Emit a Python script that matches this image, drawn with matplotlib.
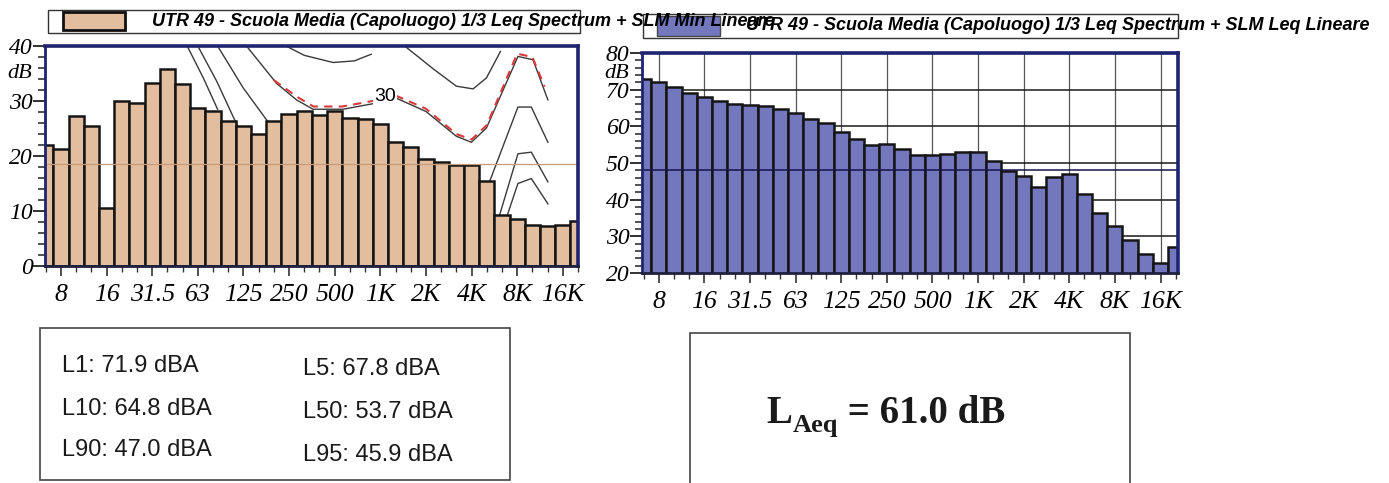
import matplotlib
matplotlib.use("Agg")
import matplotlib.pyplot as plt
from matplotlib.patches import Rectangle
import matplotlib.transforms as mtransforms

# ---------------- data ----------------
bands = ['6.3', '8', '10', '12.5', '16', '20', '25', '31.5', '40', '50', '63', '80',
         '100', '125', '160', '200', '250', '315', '400', '500', '630', '800', '1K',
         '1.25K', '1.6K', '2K', '2.5K', '3.15K', '4K', '5K', '6.3K', '8K', '10K',
         '12.5K', '16K', '20K']
min_spectrum = [22.0, 21.3, 27.2, 25.5, 10.5, 30.0, 29.7, 33.2, 35.8, 33.1, 28.8, 28.1,
                26.3, 25.4, 24.0, 26.4, 27.6, 28.1, 27.5, 28.2, 26.9, 26.8, 25.9, 22.5,
                21.6, 19.4, 19.0, 18.3, 18.4, 15.4, 9.3, 8.5, 7.5, 7.2, 7.5, 8.1]
leq_spectrum = [73.0, 72.2, 70.7, 69.2, 68.1, 67.0, 66.2, 65.9, 65.5, 64.7, 63.7, 62.1,
                61.0, 58.5, 56.6, 55.0, 55.2, 53.8, 52.3, 52.3, 52.5, 53.0, 53.0, 50.6,
                47.9, 46.4, 43.5, 46.1, 47.0, 41.6, 36.4, 32.9, 28.9, 25.3, 22.7, 27.0]
octave_labels = ['8', '16', '31.5', '63', '125', '250', '500', '1K', '2K', '4K', '8K', '16K']

legend_left = "UTR 49 - Scuola Media (Capoluogo) 1/3 Leq Spectrum + SLM Min Lineare"
legend_right = "UTR 49 - Scuola Media (Capoluogo) 1/3 Leq Spectrum + SLM Leq Lineare"

stat_names = ['L1', 'L5', 'L10', 'L50', 'L90', 'L95']
stat_values = [71.9, 67.8, 64.8, 53.7, 47.0, 45.9]
laeq_value = 61.0

# reference lines drawn across the bars
left_ref_level = 18.5
right_ref_level = 48.0

# contour curves on the left chart (band index, dB)
curve1_x = [9.3, 10.36, 11.3]
curve1_y = [40.0, 34.2, 28.5]
curve2_x = [10.0, 11.24, 12.6]
curve2_y = [40.0, 33.6, 25.5]
curve3_x = [11.3, 12.98, 14.8]
curve3_y = [40.0, 32.4, 25.5]
curve4a_x = [13.2, 15.18, 16.49, 17.58, 19.55, 21.5, 21.8]
curve4a_y = [40.0, 33.2, 30.2, 28.5, 28.5, 29.5, 29.7]
curve4b_x = [23.06, 25.0, 27.0, 27.99, 28.98, 31.05, 32.04, 33.02]
curve4b_y = [30.5, 28.1, 23.6, 22.5, 25.1, 38.1, 37.5, 30.2]
red_a_x = [15.0, 16.5, 17.6, 19.5, 21.5, 21.8]
red_a_y = [33.8, 30.8, 29.0, 29.0, 30.0, 30.2]
red_b_x = [23.0, 25.0, 27.0, 28.0, 29.0, 31.0, 32.0, 32.8]
red_b_y = [31.0, 28.6, 24.0, 23.0, 25.6, 38.6, 38.0, 32.6]
curve0_x = [15.8, 17.0, 18.9, 20.3, 21.4]
curve0_y = [40.0, 38.3, 37.0, 37.3, 38.5]
curve5_x = [23.6, 25.5, 27.0, 28.1, 28.98, 29.9]
curve5_y = [40.0, 35.8, 32.7, 32.2, 34.2, 39.0]
curve6_x = [29.0, 31.05, 31.93, 33.02]
curve6_y = [14.0, 28.9, 28.9, 22.5]
curve7_x = [29.6, 31.05, 31.93, 33.02]
curve7_y = [7.0, 20.4, 20.7, 15.3]
curve8_x = [30.2, 31.05, 31.93, 33.02]
curve8_y = [8.0, 15.0, 15.9, 11.3]
contour_label = '30'
contour_label_pos = (22.3, 30.9)

# ---------------- style ----------------
W, H = 1389, 483
TAN = '#E3BE9E'
BLUE = '#7377BE'
NAVY = '#1E2470'
SERIF = ['Liberation Serif', 'DejaVu Serif']
INK = '#1a1a1a'

fig = plt.figure(figsize=(W / 100, H / 100), dpi=100)
fig.patch.set_facecolor('white')


def fbox(x0, y0, x1, y1):
    """pixel box (top-left origin) -> figure fraction rect"""
    return [x0 / W, 1 - y1 / H, (x1 - x0) / W, (y1 - y0) / H]


major_pos = [1 + 3 * k for k in range(len(octave_labels))]
idx = list(range(len(bands)))


def style_axes(ax, ylo, yhi, xlim, db_at):
    ax.set_xlim(*xlim)
    ax.set_ylim(ylo, yhi)
    ax.set_xticks(major_pos)
    ax.set_xticklabels(octave_labels)
    ax.set_xticks(idx, minor=True)
    ax.set_yticks(list(range(ylo, yhi + 1, 10)))
    ax.set_yticks(list(range(ylo, yhi + 1, 2)), minor=True)
    for lab in ax.get_xticklabels():
        lab.set_fontfamily(SERIF)
        lab.set_fontstyle('italic')
        lab.set_fontsize(18.5)
    for lab in ax.get_yticklabels():
        lab.set_fontfamily(SERIF)
        lab.set_fontstyle('italic')
        lab.set_fontsize(17)
    ax.tick_params(axis='x', which='major', direction='out', length=7, width=1.2,
                   color='#333333', pad=6)
    ax.tick_params(axis='x', which='minor', direction='out', length=4, width=1.0,
                   color='#333333')
    ax.tick_params(axis='y', which='major', direction='out', length=9, width=1.3,
                   color='#222222', pad=0)
    ax.tick_params(axis='y', which='minor', direction='out', length=5, width=1.1,
                   color='#222222')
    for side in ['top', 'right']:
        ax.spines[side].set_color(NAVY)
        ax.spines[side].set_linewidth(2.6)
    ax.spines['left'].set_color(NAVY)
    ax.spines['left'].set_linewidth(2.0)
    ax.spines['bottom'].set_color('#202040')
    ax.spines['bottom'].set_linewidth(2.0)
    trans = mtransforms.blended_transform_factory(ax.transAxes, ax.transData)
    ax.text(-0.025, db_at, 'dB', transform=trans, ha='right', va='center',
            fontfamily=SERIF, fontstyle='italic', fontsize=16)


# ---------------- left chart ----------------
axL = fig.add_axes(fbox(45, 46, 578, 266))
contour_style = dict(color='#3a3a3a', lw=1.0, zorder=1)
for cx, cy in [(curve1_x, curve1_y), (curve2_x, curve2_y), (curve3_x, curve3_y),
               (curve4a_x, curve4a_y), (curve4b_x, curve4b_y), (curve0_x, curve0_y),
               (curve5_x, curve5_y), (curve6_x, curve6_y), (curve7_x, curve7_y),
               (curve8_x, curve8_y)]:
    axL.plot(cx, cy, **contour_style)
for cx, cy in [(red_a_x, red_a_y), (red_b_x, red_b_y)]:
    axL.plot(cx, cy, color='#D83A3A', lw=1.5, dashes=(4, 3), zorder=1.5)
axL.text(contour_label_pos[0], contour_label_pos[1], contour_label, ha='center',
         va='center', fontsize=14, fontfamily='Liberation Sans', zorder=1.6,
         bbox=dict(boxstyle='square,pad=0.05', fc='white', ec='none'))
axL.bar(idx, min_spectrum, width=1.0, color=TAN, edgecolor='#151515', linewidth=1.8,
        zorder=2)
axL.axhline(left_ref_level, color='#C89A78', lw=0.9, zorder=2.5)
style_axes(axL, 0, 40, (-0.05, 35.0), 35)

# ---------------- right chart ----------------
axR = fig.add_axes(fbox(642, 53, 1178, 273))
axR.grid(True, which='major', axis='x', color='#555555', lw=0.9, zorder=0)
axR.grid(True, which='major', axis='y', color='#1a1a1a', lw=1.1, zorder=0)
axR.set_axisbelow(True)
axR.bar(idx, leq_spectrum, width=1.0, color=BLUE, edgecolor='#151515', linewidth=1.8,
        zorder=2)
axR.axhline(right_ref_level, color='#15154a', lw=1.1, zorder=2.5)
style_axes(axR, 20, 80, (-0.1, 35.15), 74.3)

# ---------------- legends ----------------
legend_font = dict(fontfamily=['Liberation Sans'], fontweight='bold', fontstyle='italic',
                   fontsize=13, va='center', ha='left')
fig.add_artist(Rectangle((48 / W, 1 - 33 / H), 532 / W, 23 / H, transform=fig.transFigure,
                         fc='white', ec='#333333', lw=1.0, zorder=1))
fig.add_artist(Rectangle((63 / W, 1 - 30 / H), 62 / W, 18 / H, transform=fig.transFigure,
                         fc=TAN, ec='#111111', lw=2.0, zorder=2))
fig.add_artist(Rectangle((643 / W, 1 - 38 / H), 535 / W, 24 / H, transform=fig.transFigure,
                         fc='none', ec='#333333', lw=1.0, zorder=2))
fig.add_artist(Rectangle((657 / W, 1 - 36 / H), 63 / W, 20 / H, transform=fig.transFigure,
                         fc=BLUE, ec='#444444', lw=1.0, zorder=2))
fig.text(152 / W, 1 - 21 / H, legend_left, zorder=3, **legend_font)
fig.text(746 / W, 1 - 26 / H, legend_right, zorder=3, **legend_font)

# ---------------- statistics boxes ----------------
fig.add_artist(Rectangle((40 / W, 1 - 480 / H), 470 / W, 152 / H, transform=fig.transFigure,
                         fc='white', ec='#444444', lw=1.2, zorder=1))
stat_pos = [(62, 366), (303, 369), (62, 409), (303, 412), (62, 450), (303, 455)]
for (name, val), (px, py) in zip(zip(stat_names, stat_values), stat_pos):
    fig.text(px / W, 1 - py / H, f"{name}: {val:.1f} dBA", ha='left', va='center',
             fontfamily='Liberation Sans', fontsize=17, color=INK, zorder=3)

fig.add_artist(Rectangle((690 / W, 1 - 500 / H), 440 / W, 167 / H, transform=fig.transFigure,
                         fc='white', ec='#444444', lw=1.2, zorder=1))

laeq_font = dict(fontfamily=SERIF, fontweight='bold', color=INK, ha='left',
                 va='baseline', zorder=3)
t1 = fig.text(766 / W, 1 - 423 / H, 'L', fontsize=28, **laeq_font)
fig.canvas.draw()
renderer = fig.canvas.get_renderer()
x_after_L = t1.get_window_extent(renderer).x1
t2 = fig.text((x_after_L + 1) / W, 1 - 432 / H, 'Aeq', fontsize=19, **laeq_font)
fig.canvas.draw()
x_after_sub = t2.get_window_extent(renderer).x1
fig.text(x_after_sub / W, 1 - 423 / H, f" = {laeq_value:.1f} dB", fontsize=28,
         **laeq_font)

fig.savefig('out.png', dpi=100)
